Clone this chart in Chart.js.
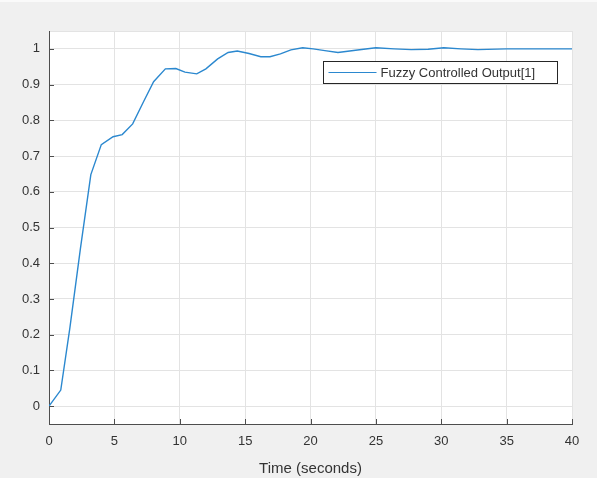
<!DOCTYPE html>
<html>
<head>
<meta charset="utf-8">
<script src="https://cdn.jsdelivr.net/npm/chart.js@4/dist/chart.umd.min.js"></script>
<style>
  html, body { margin: 0; padding: 0; background: #f0f0f0; }
  #wrap { width: 597px; height: 478px; border-top: 2px solid #fafafa; box-sizing: border-box; }
</style>
</head>
<body>
<div id="wrap"><canvas id="chart" width="597" height="476"></canvas></div>
<script>
// values
const timeData = [0, 0.9, 1.6, 2.4, 3.2, 4.0, 4.9, 5.6, 6.4, 7.2, 8.0, 8.9, 9.7, 10.4, 11.3, 12.0, 12.9, 13.7,
    14.4, 15.3, 16.2, 16.9, 17.7, 18.5, 19.4, 20.2, 21.1, 22.1, 23.6, 25.0, 26.4, 27.7, 29.0, 30.2, 31.5, 32.8,
    35.0, 37.5, 40];
const outputData = [0, 0.045, 0.22, 0.44, 0.648, 0.732, 0.754, 0.76, 0.79, 0.85, 0.908, 0.944, 0.945, 0.935, 0.93,
    0.944, 0.972, 0.99, 0.994, 0.987, 0.978, 0.978, 0.986, 0.997, 1.003, 1.0, 0.995, 0.99, 0.997, 1.003, 1.0,
    0.998, 0.999, 1.003, 1.0, 0.998, 1.0, 1.0, 1.0];
const xTicks = [0, 5, 10, 15, 20, 25, 30, 35, 40];
const yTicks = [0, 0.1, 0.2, 0.3, 0.4, 0.5, 0.6, 0.7, 0.8, 0.9, 1];
const seriesLabel = "Fuzzy Controlled Output[1]";
const xTitle = "Time (seconds)";

const FONT = '"Liberation Sans", Arial, Helvetica, sans-serif';
const AXIS_COLOR = '#4d4d4d';
const TEXT_COLOR = '#333333';
const GRID_COLOR = '#e3e3e3';
const LINE_COLOR = '#2b88cf';

// white plot box + inward ticks + boxed legend, MATLAB style
const matlabLook = {
    id: 'matlabLook',
    beforeDraw(chart) {
        const { ctx, chartArea: a } = chart;
        ctx.save();
        ctx.fillStyle = '#ffffff';
        ctx.fillRect(a.left, a.top, a.right - a.left, a.bottom - a.top);
        // light right/top frame
        ctx.strokeStyle = GRID_COLOR;
        ctx.beginPath();
        ctx.moveTo(a.left, a.top + 0.5);
        ctx.lineTo(a.right + 0.5, a.top + 0.5);
        ctx.lineTo(a.right + 0.5, a.bottom);
        ctx.stroke();
        ctx.restore();
    },
    afterDraw(chart) {
        const { ctx, chartArea: a, scales } = chart;
        ctx.save();
        ctx.strokeStyle = AXIS_COLOR;
        ctx.lineWidth = 1;
        ctx.beginPath();
        xTicks.forEach(v => {
            const px = Math.round(scales.x.getPixelForValue(v)) + 0.5;
            ctx.moveTo(px, a.bottom);
            ctx.lineTo(px, a.bottom - 5);
        });
        yTicks.forEach(v => {
            const py = Math.round(scales.y.getPixelForValue(v)) + 0.5;
            ctx.moveTo(a.left, py);
            ctx.lineTo(a.left + 5, py);
        });
        ctx.stroke();

        // legend box (canvas sits 2px below page top)
        const bx = 323.5, by = 59.5, bw = 234, bh = 22;
        ctx.fillStyle = '#ffffff';
        ctx.fillRect(bx, by, bw, bh);
        ctx.strokeStyle = '#262626';
        ctx.strokeRect(bx, by, bw, bh);
        ctx.strokeStyle = LINE_COLOR;
        ctx.lineWidth = 1.2;
        ctx.beginPath();
        ctx.moveTo(bx + 5, by + bh / 2);
        ctx.lineTo(bx + 53, by + bh / 2);
        ctx.stroke();
        ctx.fillStyle = TEXT_COLOR;
        ctx.font = '13px ' + FONT;
        ctx.textBaseline = 'middle';
        ctx.fillText(chart.data.datasets[0].label, bx + 57, by + bh / 2 + 1);
        ctx.restore();
    }
};

new Chart(document.getElementById('chart'), {
    type: 'line',
    data: {
        datasets: [{
            label: seriesLabel,
            data: timeData.map((t, i) => ({ x: t, y: outputData[i] })),
            borderColor: LINE_COLOR,
            borderWidth: 1.4,
            pointRadius: 0,
            tension: 0,
            fill: false,
        }]
    },
    options: {
        responsive: false,
        animation: false,
        layout: { padding: { left: 0, top: 29, right: 25, bottom: 0 } },
        plugins: { legend: { display: false }, tooltip: { enabled: false } },
        scales: {
            x: {
                type: 'linear',
                min: 0,
                max: 40,
                afterBuildTicks: s => { s.ticks = xTicks.map(v => ({ value: v })); },
                afterFit: s => { s.height = 54; },
                ticks: { color: TEXT_COLOR, font: { family: FONT, size: 13 }, padding: 10, maxRotation: 0 },
                grid: { color: GRID_COLOR, drawTicks: false },
                border: { color: AXIS_COLOR },
                title: { display: true, text: xTitle, color: TEXT_COLOR, font: { family: FONT, size: 15 }, padding: { top: 0, bottom: 0 } },
            },
            y: {
                type: 'linear',
                min: -0.05,
                max: 1.05,
                afterBuildTicks: s => { s.ticks = yTicks.map(v => ({ value: v })); },
                afterFit: s => { s.width = 49; },
                ticks: {
                    color: TEXT_COLOR, font: { family: FONT, size: 13 }, padding: 9,
                    callback: v => String(Math.round(v * 10) / 10)
                },
                grid: { color: GRID_COLOR, drawTicks: false },
                border: { color: AXIS_COLOR },
            }
        }
    },
    plugins: [matlabLook]
});
</script>
</body>
</html>
